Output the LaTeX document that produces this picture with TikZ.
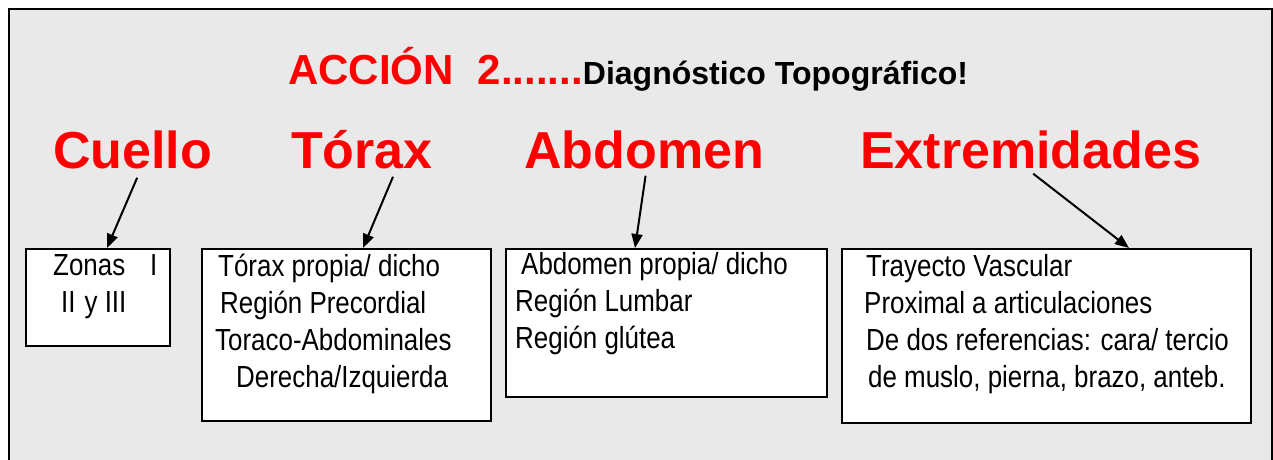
\documentclass[tikz,border=0pt]{standalone}
\usepackage{fontspec}
\setmainfont{Liberation Sans}
\newfontfamily\narrowfont{Liberation Sans}[FakeStretch=0.85]
\usepackage{xcolor}
\usetikzlibrary{arrows.meta}
\definecolor{fondo}{HTML}{E9E9E9}
\tikzstyle{heading}=[text=red, font=\bfseries\fontsize{52}{60}\selectfont, inner sep=0pt, anchor=base west]
\tikzstyle{caja}=[draw, line width=2pt, fill=white, anchor=north west, inner sep=0pt]
\tikzstyle{lineas}=[font=\narrowfont\fontsize{30.5}{37}\selectfont, align=left, inner sep=0pt, anchor=base west]
\tikzstyle{flecha}=[line width=2pt, -{Triangle[length=14pt,width=11pt]}]
\newcommand{\caja}{\node[caja]}

\begin{document}
\begin{tikzpicture}[x=1pt, y=-1pt]
\useasboundingbox (0,0) rectangle (1273,459);
\fill[white] (0,0) rectangle (1273,459);
\draw[line width=2pt, fill=fondo] (9.3,9.3) rectangle (1271.5,475);

% titulo
\node[anchor=base west, inner sep=0pt, font=\bfseries] (titulo) at (288,84)
  {{\color{red}\fontsize{42}{48}\selectfont ACCIÓN\hspace{24pt}2.......}\fontsize{32}{36}\selectfont Diagnóstico Topográfico!};

% regiones
\node[heading] (cuello) at (53,168) {Cuello};
\node[heading] (torax) at (291,168) {Tórax};
\node[heading] (abdomen) at (524,168) {Abdomen};
\node[heading] (extrem) at (860,168) {Extremidades};

% cajas
\caja[minimum width=144pt, minimum height=97pt] (zonas) at (25,248) {};
\caja[minimum width=289pt, minimum height=172pt] (ctorax) at (201,248) {};
\caja[minimum width=321pt, minimum height=148pt] (cabdomen) at (505,248) {};
\caja[minimum width=409pt, minimum height=174pt] (cextrem) at (841,248) {};

% textos (base = ultima linea)
\node[lineas] (t1) at (53,312) {Zonas\hspace*{25pt}I\\\hspace*{8pt}II\hspace*{9pt}y III};
\node[lineas] (t2) at (215,387) {\hspace*{3pt}Tórax propia/ dicho\\\hspace*{5pt}Región Precordial\\Toraco-Abdominales\\\hspace*{21pt}Derecha/Izquierda};
\node[lineas] (t3) at (515,348) {\hspace*{6pt}Abdomen propia/ dicho\\Región Lumbar\\Región glútea};
\node[lineas] (t4) at (864,387) {\hspace*{2pt}Trayecto Vascular\\Proximal a articulaciones\\\hspace*{2pt}De dos referencias: cara/ tercio\\\hspace*{4pt}de muslo, pierna, brazo, anteb.};

% flechas
\draw[flecha] ([xshift=4.5pt,yshift=-9pt]cuello.south) -- ([xshift=9pt]zonas.north);
\draw[flecha] ([xshift=31pt,yshift=-8pt]torax.south) -- ([xshift=16.5pt]ctorax.north);
\draw[flecha] ([xshift=1.5pt,yshift=-7pt]abdomen.south) -- ([xshift=-31.5pt]cabdomen.north);
\draw[flecha] ([xshift=2.5pt,yshift=-5pt]extrem.south) -- ([xshift=82.5pt]cextrem.north);
\end{tikzpicture}
\end{document}
